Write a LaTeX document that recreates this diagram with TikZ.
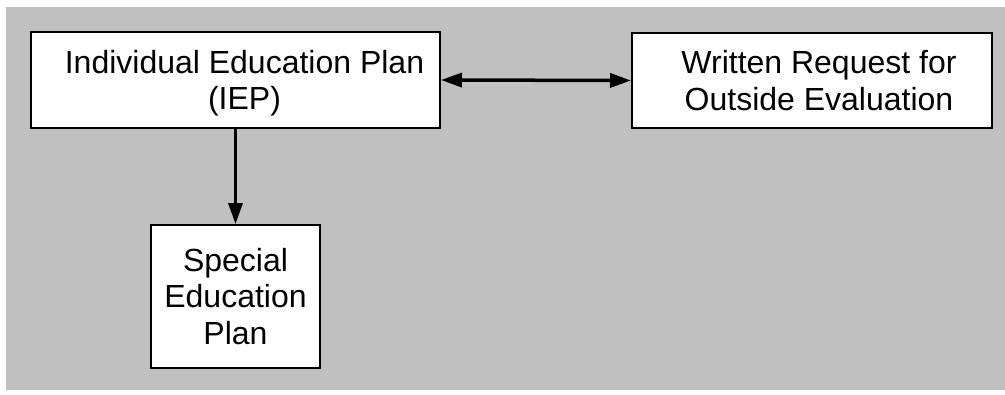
\documentclass[tikz,border=0pt]{standalone}
\usepackage{fontspec}
\setmainfont{Liberation Sans}
\usepackage{tikz}
\usetikzlibrary{arrows.meta}
\usepackage{xcolor}
\definecolor{bggray}{RGB}{192,192,192}

\begin{document}
\begin{tikzpicture}[x=1pt,y=-1pt,>={Triangle[length=21pt,width=14pt]}]
\tikzset{
    planbox/.style={%
        draw=black, line width=2pt,
        fill=white,
        rectangle,
        align=center,
        inner sep=0pt,
        font=\fontsize{32}{36.5}\selectfont
        },
    link/.style={%
        <->, line width=3.5pt
        },
}
%%%BACKGROUND
\useasboundingbox (0,0) rectangle (1005,394);
\fill[bggray] (6,7) rectangle (1005,390);
%%%PLANS
\node[planbox, minimum width=409pt, minimum height=96pt, text depth=0pt] (iep) at (235.5,80) {\hspace*{18pt}Individual Education Plan\\\hspace*{18pt}(IEP)};
\node[planbox, minimum width=360pt, minimum height=95pt, text depth=0pt] (req) at (812,80.5) {\hspace*{14pt}Written Request for\\\hspace*{14pt}Outside Evaluation};
\node[planbox, minimum width=169pt, minimum height=143pt] (sep) at (235.5,296.5) {Special\\Education\\Plan};
%%%LINKS
\draw[link] (iep.east) -- (req.west);
\draw[->, line width=3.5pt] (iep.south) -- (sep.north);
\end{tikzpicture}
\end{document}
